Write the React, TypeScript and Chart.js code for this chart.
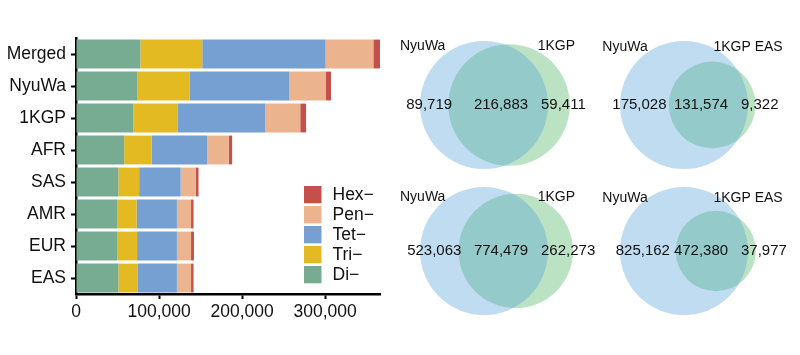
import React, { useEffect, useRef } from 'react';
import { Chart, registerables } from 'chart.js';

Chart.register(...registerables);

const FONT = "'Liberation Sans', Arial, Helvetica, sans-serif";

// ---------- Stacked bar data ----------
const categories = ['Merged', 'NyuWa', '1KGP', 'AFR', 'SAS', 'AMR', 'EUR', 'EAS'];
const diValues = [77500, 74000, 69000, 58000, 51000, 49500, 49500, 51000];
const triValues = [74500, 63000, 53000, 33000, 25000, 23500, 24000, 23500];
const tetValues = [148500, 120000, 106000, 67000, 50000, 48500, 48000, 47000];
const penValues = [57500, 44000, 42000, 26000, 18000, 17000, 17000, 17000];
const hexValues = [8000, 6000, 7000, 4000, 3500, 3000, 3500, 3000];
const repeatLabels = ['Di\u2212', 'Tri\u2212', 'Tet\u2212', 'Pen\u2212', 'Hex\u2212'];
const repeatColors = ['#78AC92', '#E4BA22', '#76A0D2', '#EBB48E', '#C5504B'];
const xTickValues = [0, 100000, 200000, 300000];

// ---------- Venn data ----------
const vennLeftNames = ['NyuWa', 'NyuWa', 'NyuWa', 'NyuWa'];
const vennRightNames = ['1KGP', '1KGP EAS', '1KGP', '1KGP EAS'];
const vennOnlyLeft = [89719, 175028, 523063, 825162];
const vennShared = [216883, 131574, 774479, 472380];
const vennOnlyRight = [59411, 9322, 262273, 37977];

const fmt = (v: number) => Number(v).toLocaleString('en-US');

function lensArea(r1: number, r2: number, d: number) {
  if (d >= r1 + r2) return 0;
  if (d <= Math.abs(r1 - r2)) return Math.PI * Math.min(r1, r2) ** 2;
  const a = r1 * r1 * Math.acos((d * d + r1 * r1 - r2 * r2) / (2 * d * r1));
  const b = r2 * r2 * Math.acos((d * d + r2 * r2 - r1 * r1) / (2 * d * r2));
  const c = 0.5 * Math.sqrt((-d + r1 + r2) * (d + r1 - r2) * (d - r1 + r2) * (d + r1 + r2));
  return a + b - c;
}

function solveDistance(r1: number, r2: number, area: number) {
  let lo = Math.abs(r1 - r2);
  let hi = r1 + r2;
  for (let i = 0; i < 80; i++) {
    const mid = (lo + hi) / 2;
    if (lensArea(r1, r2, mid) > area) lo = mid;
    else hi = mid;
  }
  return (lo + hi) / 2;
}

function BarChart() {
  const ref = useRef<HTMLCanvasElement>(null);
  useEffect(() => {
    if (!ref.current) return;
    const series = [diValues, triValues, tetValues, penValues, hexValues];
    const totals = categories.map((_, i) => series.reduce((s, arr) => s + arr[i], 0));
    const xMax = Math.max(...totals);

    const legendPlugin = {
      id: 'insetLegend',
      afterDraw(chart: any) {
        const ctx = chart.ctx;
        const ds = chart.data.datasets;
        ctx.save();
        ctx.font = `17.5px ${FONT}`;
        ctx.textBaseline = 'middle';
        ctx.textAlign = 'left';
        for (let k = 0; k < ds.length; k++) {
          const d = ds[ds.length - 1 - k];
          const top = 186 + k * 20;
          ctx.fillStyle = d.backgroundColor;
          ctx.fillRect(304, top, 17.5, 17.3);
          ctx.fillStyle = '#111';
          ctx.fillText(d.label, 332.5, top + 9.5);
        }
        ctx.restore();
      },
    };

    const chart = new Chart(ref.current, {
      type: 'bar',
      data: {
        labels: categories,
        datasets: series.map((arr, i) => ({
          label: repeatLabels[i],
          data: arr,
          backgroundColor: repeatColors[i],
          borderWidth: 0,
          barPercentage: 0.9,
          categoryPercentage: 1,
        })),
      },
      options: {
        indexAxis: 'y',
        responsive: false,
        animation: false,
        events: [],
        layout: { padding: { top: 38, right: 10, left: 0, bottom: 0 } },
        plugins: { legend: { display: false }, tooltip: { enabled: false } },
        scales: {
          x: {
            type: 'linear',
            stacked: true,
            min: 0,
            max: xMax,
            z: 1,
            afterFit: (s: any) => {
              s.height = 61;
            },
            afterBuildTicks: (s: any) => {
              s.ticks = xTickValues.map((v) => ({ value: v }));
            },
            ticks: {
              color: '#111',
              font: { family: FONT, size: 17.5 },
              padding: 3,
              maxRotation: 0,
              autoSkip: false,
              callback: (v: any) => fmt(v),
            },
            grid: {
              display: true,
              drawOnChartArea: false,
              drawTicks: true,
              tickLength: 5,
              tickColor: '#000',
              tickWidth: 2,
            },
            border: { display: true, color: '#000', width: 2.5 },
          },
          y: {
            type: 'category',
            stacked: true,
            z: 1,
            afterFit: (s: any) => {
              s.width = 76;
            },
            ticks: {
              color: '#111',
              font: { family: FONT, size: 17.5 },
              padding: 5,
              autoSkip: false,
            },
            grid: {
              display: true,
              offset: false,
              drawOnChartArea: false,
              drawTicks: true,
              tickLength: 5,
              tickColor: '#000',
              tickWidth: 2,
            },
            border: { display: true, color: '#000', width: 2.5 },
          },
        },
      } as any,
      plugins: [legendPlugin],
    });
    return () => chart.destroy();
  }, []);
  return (
    <canvas
      ref={ref}
      width={390}
      height={355}
      style={{ position: 'absolute', left: 0, top: 0, width: 390, height: 355 }}
    />
  );
}

type PanelLayout = {
  left: number;
  top: number;
  nameY: number;
  leftNameX: number;
  rightNameX: number;
  rightNameAlign: 'left' | 'right';
};

const panelLayouts: PanelLayout[] = [
  { left: 392, top: 30, nameY: 20, leftNameX: 8, rightNameX: 145.7, rightNameAlign: 'left' },
  { left: 592, top: 30, nameY: 20.5, leftNameX: 10.3, rightNameX: 190.7, rightNameAlign: 'right' },
  { left: 392, top: 176, nameY: 25, leftNameX: 8, rightNameX: 145.7, rightNameAlign: 'left' },
  { left: 592, top: 176, nameY: 26, leftNameX: 10.3, rightNameX: 190.7, rightNameAlign: 'right' },
];

function VennPanel({ idx }: { idx: number }) {
  const ref = useRef<HTMLCanvasElement>(null);
  const lay = panelLayouts[idx];
  const W = 205;
  const H = 150;
  useEffect(() => {
    if (!ref.current) return;
    const aTotal = vennOnlyLeft[idx] + vennShared[idx];
    const bTotal = vennOnlyRight[idx] + vennShared[idx];
    const rA = Math.sqrt(aTotal / Math.PI);
    const rB = Math.sqrt(bTotal / Math.PI);
    const d = solveDistance(rA, rB, vennShared[idx]);
    const unitPx = 64 / rA;
    const cx = 92;
    const cy = 75;

    const radiusPx = (ctx: any) => {
      const raw = ctx.raw;
      if (!raw || raw.r == null) return 0;
      const s = ctx.chart.scales.x;
      return Math.abs(s.getPixelForValue(raw.r) - s.getPixelForValue(0));
    };

    const labelPlugin = {
      id: 'vennLabels',
      afterDatasetsDraw(chart: any) {
        const c = chart.ctx;
        const xs = chart.scales.x;
        const ys = chart.scales.y;
        const ax = xs.getPixelForValue(0);
        const bx = xs.getPixelForValue(d);
        const py = ys.getPixelForValue(0);
        const rApx = Math.abs(xs.getPixelForValue(rA) - ax);
        const rBpx = Math.abs(xs.getPixelForValue(rB) - xs.getPixelForValue(0));
        c.save();
        c.fillStyle = '#111';
        c.font = `15px ${FONT}`;
        c.textBaseline = 'middle';
        c.textAlign = 'center';
        c.fillText(fmt(vennOnlyLeft[idx]), (ax - rApx + (bx - rBpx)) / 2 - 5, py);
        c.fillText(fmt(vennShared[idx]), ax + 17, py);
        c.textAlign = 'left';
        c.fillText(fmt(vennOnlyRight[idx]), ax + rApx - 7, py);
        c.font = `14px ${FONT}`;
        c.textBaseline = 'alphabetic';
        c.textAlign = 'left';
        c.fillText(vennLeftNames[idx], lay.leftNameX, lay.nameY);
        c.textAlign = lay.rightNameAlign;
        c.fillText(vennRightNames[idx], lay.rightNameX, lay.nameY);
        c.restore();
      },
    };

    const chart = new Chart(ref.current, {
      type: 'scatter',
      data: {
        datasets: [
          {
            label: vennLeftNames[idx],
            data: [{ x: 0, y: 0, r: rA }],
            pointBackgroundColor: 'rgba(82,160,214,0.37)',
            pointBorderWidth: 0,
            pointBorderColor: 'rgba(0,0,0,0)',
            pointRadius: radiusPx,
            pointHoverRadius: radiusPx,
            clip: false,
          },
          {
            label: vennRightNames[idx],
            data: [{ x: d, y: 0, r: rB }],
            pointBackgroundColor: 'rgba(74,177,96,0.37)',
            pointBorderWidth: 0,
            pointBorderColor: 'rgba(0,0,0,0)',
            pointRadius: radiusPx,
            pointHoverRadius: radiusPx,
            clip: false,
          },
        ],
      },
      options: {
        responsive: false,
        animation: false,
        events: [],
        layout: { padding: 0 },
        plugins: { legend: { display: false }, tooltip: { enabled: false } },
        scales: {
          x: { type: 'linear', display: false, min: -cx / unitPx, max: (W - cx) / unitPx },
          y: { type: 'linear', display: false, min: -(H - cy) / unitPx, max: cy / unitPx },
        },
      } as any,
      plugins: [labelPlugin],
    });
    return () => chart.destroy();
  }, [idx]);
  return (
    <canvas
      ref={ref}
      width={W}
      height={H}
      style={{ position: 'absolute', left: lay.left, top: lay.top, width: W, height: H }}
    />
  );
}

export default function App() {
  return (
    <div
      style={{
        position: 'fixed',
        left: 0,
        top: 0,
        width: 800,
        height: 355,
        background: '#fff',
        overflow: 'hidden',
      }}
    >
      <BarChart />
      {[0, 1, 2, 3].map((i) => (
        <VennPanel key={i} idx={i} />
      ))}
    </div>
  );
}
